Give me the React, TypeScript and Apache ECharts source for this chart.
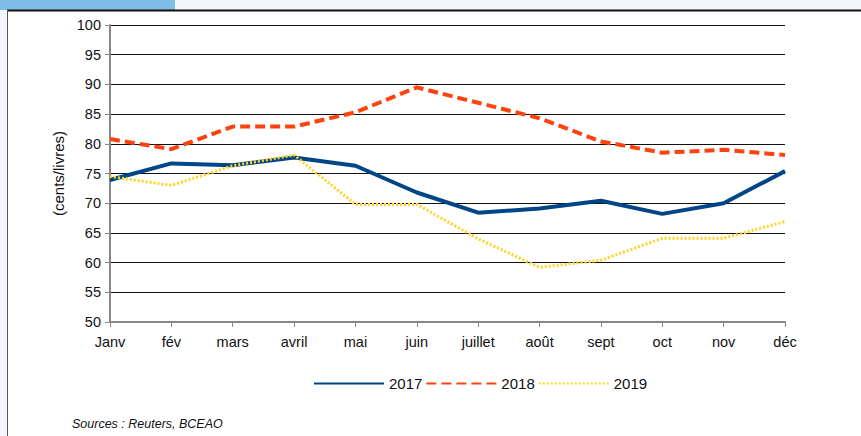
import React, { useEffect, useRef } from "react";
import * as echarts from "echarts";

const months = ["Janv", "fév", "mars", "avril", "mai", "juin", "juillet", "août", "sept", "oct", "nov", "déc"];
const s2017 = [73.9, 76.7, 76.4, 77.7, 76.3, 71.8, 68.4, 69.1, 70.4, 68.2, 70.0, 75.4];
const s2018 = [80.8, 79.1, 82.9, 82.9, 85.3, 89.5, 86.9, 84.3, 80.4, 78.5, 79.0, 78.1];
const s2019 = [74.5, 73.0, 76.3, 78.1, 69.8, 69.8, 64.0, 59.2, 60.4, 64.1, 64.1, 66.9];
const seriesNames = ["2017", "2018", "2019"];
const yTitle = "(cents/livres)";
const sourceText = "Sources : Reuters, BCEAO";

export default function App() {
  const ref = useRef<HTMLDivElement>(null);
  useEffect(() => {
    if (!ref.current) return;
    const chart = echarts.init(ref.current, undefined, { renderer: "svg" });
    const font = "'Liberation Sans', Arial, sans-serif";
    chart.setOption({
      animation: false,
      backgroundColor: "#ffffff",
      textStyle: { fontFamily: font },
      graphic: [
        { type: "rect", left: 0, top: 0, shape: { width: 861, height: 10 }, style: { fill: "#f2f6fb" }, z: -10 },
        { type: "rect", left: 0, top: 0, shape: { width: 7, height: 436 }, style: { fill: "#f2f6fb" }, z: -10 },
        { type: "rect", left: 0, top: 0, shape: { width: 175, height: 10 }, style: { fill: "#7fbde7" }, z: -9 },
        { type: "line", shape: { x1: 7, y1: 10.5, x2: 861, y2: 10.5 }, style: { stroke: "#111", lineWidth: 2 }, z: -8 },
        { type: "line", shape: { x1: 7.5, y1: 10, x2: 7.5, y2: 436 }, style: { stroke: "#555", lineWidth: 1 }, z: -8 },
        {
          type: "text",
          left: 72,
          top: 417,
          style: { text: sourceText, fill: "#111", font: `italic 12.5px ${font}` },
        },
      ],
      grid: { left: 110, right: 76, top: 25, bottom: 114, containLabel: false },
      legend: {
        data: seriesNames,
        top: 371,
        left: 308,
        itemWidth: 70,
        itemHeight: 12,
        itemGap: 3,
        itemStyle: { opacity: 0 },
        textStyle: { fontSize: 15, color: "#111", fontFamily: font },
      },
      xAxis: {
        type: "category",
        data: months,
        boundaryGap: false,
        axisLine: { lineStyle: { color: "#888", width: 2 } },
        axisTick: { show: true, length: 5, lineStyle: { color: "#888", width: 1 } },
        axisLabel: { fontSize: 14.5, color: "#111", margin: 12 },
      },
      yAxis: {
        type: "value",
        min: 50,
        max: 100,
        interval: 5,
        name: yTitle,
        nameLocation: "middle",
        nameRotate: 90,
        nameGap: 24,
        nameTextStyle: { fontSize: 15, color: "#111", padding: [0, 0, 0, 0] },
        axisLine: { show: true, lineStyle: { color: "#888", width: 2 } },
        axisTick: { show: true, length: 5, lineStyle: { color: "#888" } },
        axisLabel: { fontSize: 14.5, color: "#111", margin: 9 },
        splitLine: { lineStyle: { color: "#111", width: 1 } },
      },
      series: [
        {
          name: seriesNames[0],
          type: "line",
          data: s2017,
          symbol: "none",
          lineStyle: { color: "#004586", width: 4, type: "solid" },
          itemStyle: { color: "#004586" },
          z: 3,
        },
        {
          name: seriesNames[1],
          type: "line",
          data: s2018,
          symbol: "none",
          lineStyle: { color: "#ff420e", width: 4, type: [10, 5] },
          itemStyle: { color: "#ff420e" },
          z: 2,
        },
        {
          name: seriesNames[2],
          type: "line",
          data: s2019,
          symbol: "none",
          lineStyle: { color: "#ffd320", width: 3, type: [2, 2] },
          itemStyle: { color: "#ffd320" },
          z: 4,
        },
      ],
    });
    return () => chart.dispose();
  }, []);
  return <div ref={ref} style={{ position: "fixed", left: 0, top: 0, width: 861, height: 436 }} />;
}
